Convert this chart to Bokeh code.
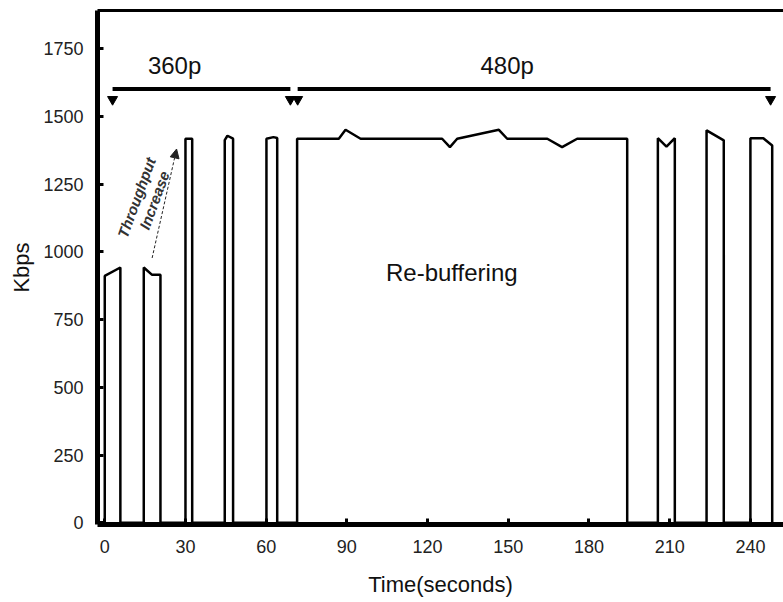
from bokeh.plotting import figure
from bokeh.models import Range1d, LinearAxis, FixedTicker, Arrow, NormalHead
from bokeh.core.properties import value
from bokeh.embed import file_html
from bokeh.resources import INLINE

# ---- data: throughput trace (time in seconds, Kbps) ----
time_s = [0, 0, 5.8, 5.8,
          14.5, 14.5, 17.6, 20.7, 20.7,
          30.0, 30.0, 32.5, 32.5,
          44.6, 44.6, 45.6, 47.7, 47.7,
          60.1, 60.1, 62.7, 64.1, 64.1,
          71.5, 71.5, 87.0, 89.5, 95.1, 125.4, 128.3, 131.0, 146.5, 149.6,
          164.5, 170.0, 175.6, 194.2, 194.2,
          205.6, 205.6, 208.8, 211.9, 211.9,
          223.7, 223.7, 230.1, 230.1,
          240.0, 240.0, 244.8, 248.1, 248.1]
kbps = [0, 911, 942, 0,
        0, 942, 915, 915, 0,
        0, 1417, 1417, 0,
        0, 1412, 1428, 1417, 0,
        0, 1417, 1423, 1420, 0,
        0, 1417, 1417, 1450, 1417, 1417, 1386, 1417, 1450, 1417,
        1417, 1386, 1417, 1417, 0,
        0, 1419, 1388, 1419, 0,
        0, 1448, 1411, 0,
        0, 1419, 1419, 1392, 0]

x_ticks = [0, 30, 60, 90, 120, 150, 180, 210, 240]
y_ticks = [0, 250, 500, 750, 1000, 1250, 1500, 1750]

# resolution segments (start, end, label)
res_start = [2.9, 71.7]
res_end = [69.0, 247.5]
res_label = ["360p", "480p"]
res_level = 1600

FONT = "Liberation Sans"
INK = "#111111"

p = figure(width=783, height=602, output_backend="svg", toolbar_location=None,
           x_range=Range1d(-2.7, 252.3), y_range=Range1d(-6, 1890),
           min_border_left=97, min_border_right=0, min_border_top=10,
           min_border_bottom=78)
p.outline_line_color = None
p.xgrid.grid_line_color = None
p.ygrid.grid_line_color = None
p.background_fill_color = "white"
p.border_fill_color = "white"

for ax, ticks in ((p.xaxis[0], x_ticks), (p.yaxis[0], y_ticks)):
    ax.ticker = FixedTicker(ticks=ticks)
    ax.axis_line_width = 5
    ax.axis_line_color = "black"
    ax.major_tick_in = 6
    ax.major_tick_out = 0
    ax.major_tick_line_width = 3
    ax.major_tick_line_color = "black"
    ax.minor_tick_line_color = None
    ax.major_label_text_font = FONT
    ax.major_label_text_font_size = "18px"
    ax.major_label_text_color = "#222222"
    ax.axis_label_text_font = FONT
    ax.axis_label_text_font_size = "22px"
    ax.axis_label_text_font_style = "normal"
    ax.axis_label_text_color = INK

p.xaxis[0].axis_label = "Time(seconds)"
p.xaxis[0].major_label_standoff = 15
p.xaxis[0].axis_label_standoff = 16
p.yaxis[0].axis_label = "Kbps"
p.yaxis[0].major_label_standoff = 14
p.yaxis[0].axis_label_standoff = 6

top = LinearAxis(ticker=FixedTicker(ticks=[]), major_tick_line_color=None,
                 minor_tick_line_color=None, major_label_standoff=0,
                 axis_line_width=3, axis_line_color="black")
p.add_layout(top, "above")

# throughput trace
p.line(time_s, kbps, line_color="black", line_width=2.5)

# resolution brackets
for s, e, lab in zip(res_start, res_end, res_label):
    p.line([s, e], [res_level, res_level], line_color="black", line_width=4)
    p.scatter([s, e], [res_level - 38, res_level - 38], marker="inverted_triangle",
              size=10, color="black")
    p.text([(s + e) / 2 - 10], [1688], text=[lab],
           text_font=value(FONT), text_font_size="24px", text_color=INK,
           text_align="center", text_baseline="middle")

# annotations
p.text([129.0], [924], text=["Re-buffering"], text_font=value(FONT),
       text_font_size="24px", text_color=INK, text_align="center",
       text_baseline="middle")
ang = 1.22
p.text([11.8], [1200], text=["Throughput"], text_font=value(FONT),
       text_font_size="15px", text_font_style="bold italic", text_color="#333333",
       text_align="center", text_baseline="middle", angle=ang)
p.text([18.4], [1190], text=["Increase"], text_font=value(FONT),
       text_font_size="15px", text_font_style="bold italic", text_color="#333333",
       text_align="center", text_baseline="middle", angle=ang)
p.add_layout(Arrow(x_start=17.6, y_start=977, x_end=26.7, y_end=1379,
                   line_width=1, line_dash="3 2", line_color="#222222",
                   end=NormalHead(size=9, fill_color="#222222",
                                  line_color="#222222")))

open("out.html", "w").write(file_html(p, INLINE))
